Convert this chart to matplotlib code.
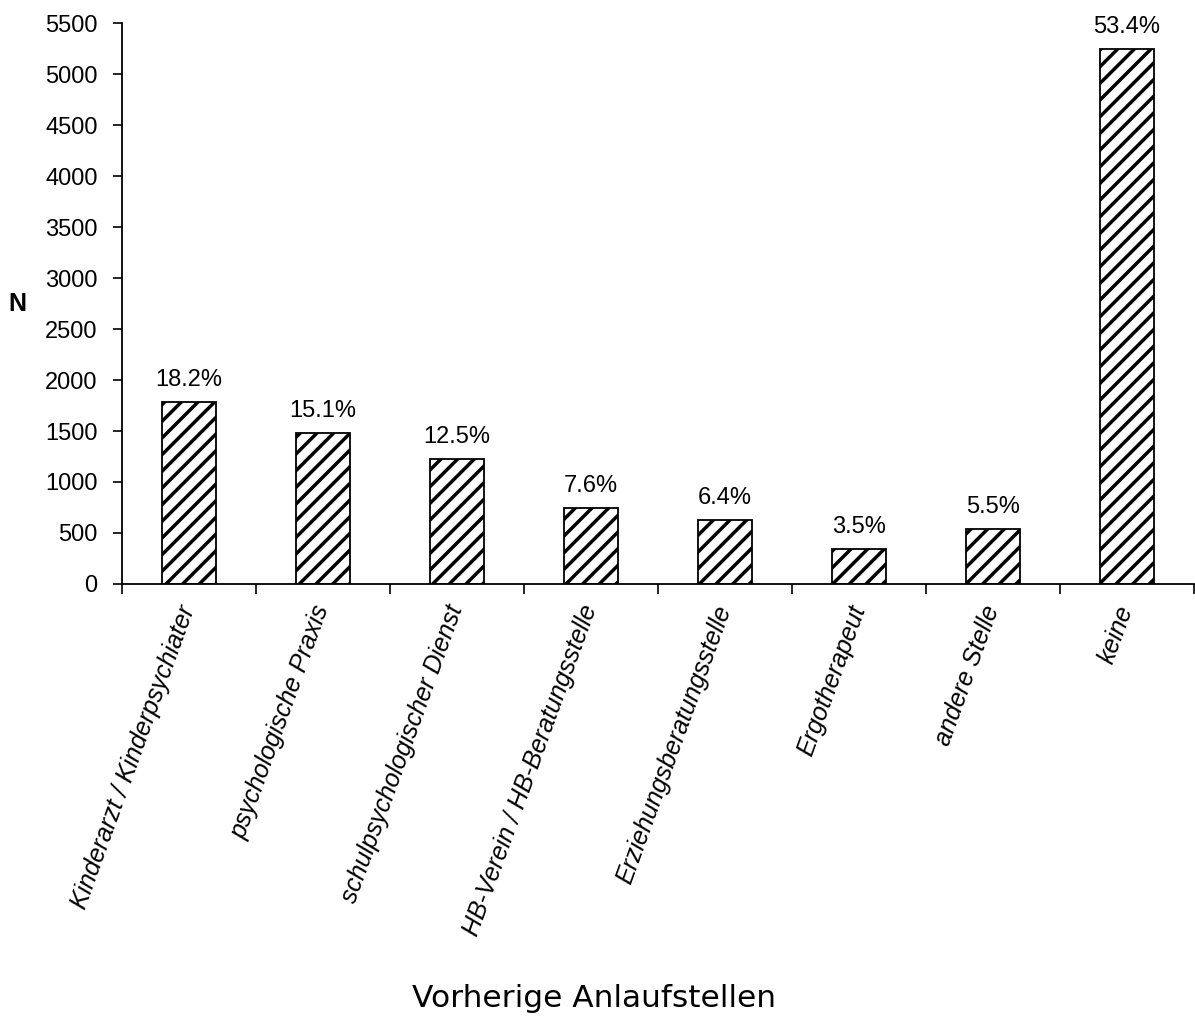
import matplotlib
matplotlib.use("Agg")
import matplotlib.pyplot as plt
from matplotlib.ticker import FixedLocator, NullFormatter

# Vorherige Anlaufstellen, Anzahl Nennungen
categories = [
    "Kinderarzt / Kinderpsychiater",
    "psychologische Praxis",
    "schulpsychologischer Dienst",
    "HB-Verein / HB-Beratungsstelle",
    "Erziehungsberatungsstelle",
    "Ergotherapeut",
    "andere Stelle",
    "keine",
]
counts = [1788, 1483, 1228, 746, 629, 344, 540, 5245]
percent_labels = ["18.2%", "15.1%", "12.5%", "7.6%", "6.4%", "3.5%", "5.5%", "53.4%"]

plt.rcParams["font.family"] = ["Liberation Sans", "DejaVu Sans"]
plt.rcParams["hatch.linewidth"] = 2.5

fig = plt.figure(figsize=(11.95, 10.19), dpi=100)
ax = fig.add_axes([0.102, 0.427, 0.897, 0.550])

x = range(len(categories))
bars = ax.bar(x, counts, width=0.4, color="white", edgecolor="black",
              linewidth=1.3, hatch="//")

for b, lab in zip(bars, percent_labels):
    ax.annotate(lab, (b.get_x() + b.get_width() / 2, b.get_height()),
                xytext=(0, 8), textcoords="offset points",
                ha="center", va="bottom", fontsize=17)

ax.set_xlim(-0.5, len(categories) - 0.5)
ax.set_ylim(0, 5500)
ax.set_yticks(range(0, 5501, 500))
ax.tick_params(axis="y", labelsize=17, length=6.5, width=1.2, direction="out", pad=11)

# labels at bar centres without marks, marks between the categories
ax.set_xticks(list(x))
ax.set_xticklabels(categories, rotation=70, ha="right", va="center",
                   rotation_mode="anchor", fontsize=18, style="italic")
ax.tick_params(axis="x", which="major", length=0, pad=16)
ax.xaxis.set_minor_locator(FixedLocator([i + 0.5 for i in range(-1, len(categories))]))
ax.xaxis.set_minor_formatter(NullFormatter())
ax.tick_params(axis="x", which="minor", length=7, width=1.2, direction="out")

for side in ["top", "right"]:
    ax.spines[side].set_visible(False)
for side in ["left", "bottom"]:
    ax.spines[side].set_linewidth(1.3)

ax.set_ylabel("N", fontsize=18, fontweight="bold", rotation=0, labelpad=20, va="center")
fig.text(0.497, 0.006, "Vorherige Anlaufstellen", ha="center", va="bottom",
         fontsize=22.5, family="DejaVu Sans")

fig.savefig("out.png", dpi=100)
